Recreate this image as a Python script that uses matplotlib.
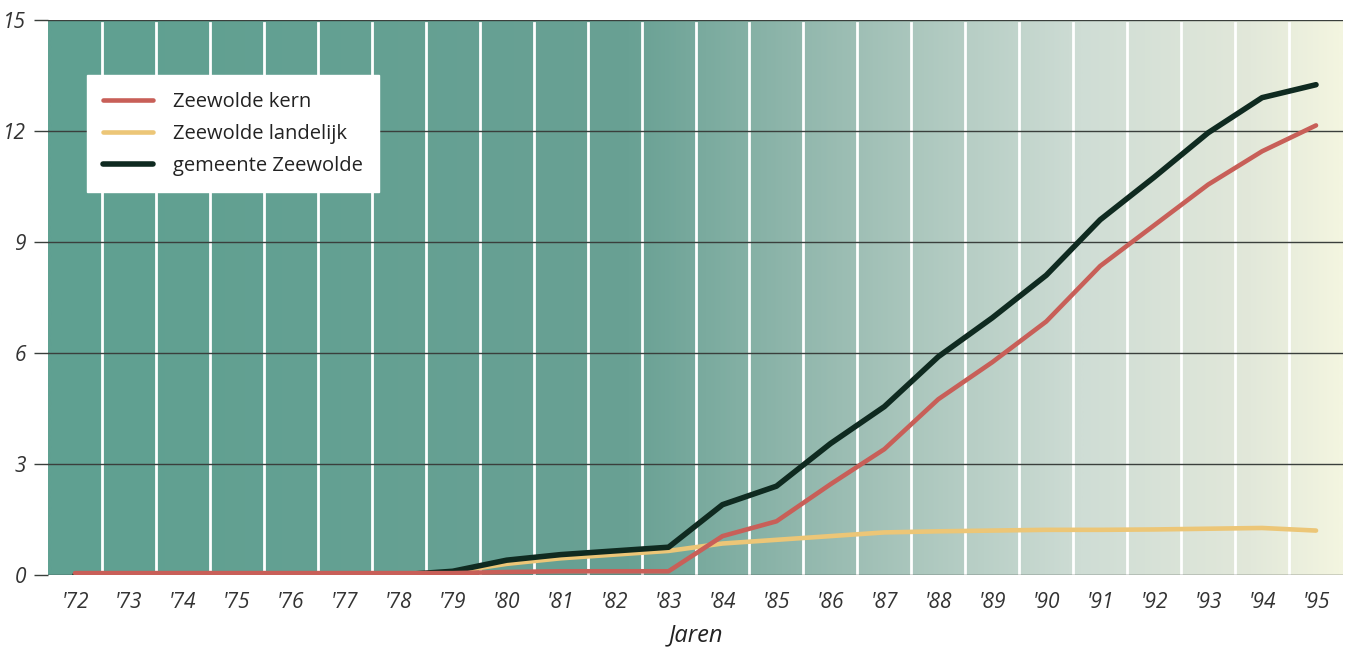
import numpy as np
import matplotlib.pyplot as plt
from matplotlib.colors import LinearSegmentedColormap

# inwoners x 1000 per jaar
jaren = list(range(1972, 1996))
jaar_labels = ["'%02d" % (j % 100) for j in jaren]

kern = [0.05, 0.05, 0.05, 0.05, 0.05, 0.05, 0.05, 0.05, 0.08, 0.1, 0.1, 0.1,
        1.05, 1.45, 2.45, 3.4, 4.75, 5.75, 6.85, 8.35, 9.45, 10.55, 11.45, 12.15]
landelijk = [0.0, 0.0, 0.0, 0.0, 0.0, 0.0, 0.0, 0.08, 0.3, 0.45, 0.55, 0.65,
             0.85, 0.95, 1.05, 1.15, 1.18, 1.2, 1.22, 1.22, 1.23, 1.25, 1.27, 1.2]
gemeente = [0.0, 0.0, 0.0, 0.0, 0.0, 0.0, 0.0, 0.1, 0.4, 0.55, 0.65, 0.75,
            1.9, 2.4, 3.55, 4.55, 5.9, 6.95, 8.1, 9.6, 10.75, 11.95, 12.9, 13.25]

y_ticks = [0, 3, 6, 9, 12, 15]

plt.rcParams['font.family'] = ['Open Sans', 'DejaVu Sans']

fig = plt.figure(figsize=(13.53, 6.48), dpi=100)
ax = fig.add_axes([0.0355, 0.1127, 0.9571, 0.8565])

x = np.array(jaren) - 1900
xmin, xmax = 71.5, 95.5
ymin, ymax = 0, 15

# achtergrond: teal links, verloopt naar licht rechts
bg = LinearSegmentedColormap.from_list('bg', [
    (0.0, '#5fa091'), (0.45, '#69a194'), (0.62, '#9dbeb4'),
    (0.8, '#cfddd5'), (0.93, '#e2e8da'), (1.0, '#f3f5e0')])
grad = np.linspace(0, 1, 512).reshape(1, -1)
ax.imshow(grad, cmap=bg, aspect='auto', extent=[xmin, xmax, ymin, ymax],
          zorder=0, interpolation='bilinear')

for xv in np.arange(72.5, 95.5, 1.0):
    ax.plot([xv, xv], [0, 14.92], color='white', lw=2.0, zorder=1)

for yv in y_ticks:
    ax.axhline(yv, color='#3a3f3c', lw=1.0, zorder=2)

ax.plot(x, landelijk, color='#ecc677', lw=3.3, zorder=3, label='Zeewolde landelijk',
        solid_capstyle='round')
ax.plot(x, gemeente, color='#0f2a20', lw=4.0, zorder=4, label='gemeente Zeewolde',
        solid_capstyle='round')
ax.plot(x, kern, color='#c85f58', lw=3.3, zorder=5, label='Zeewolde kern',
        solid_capstyle='round')

ax.set_xlim(xmin, xmax)
ax.set_ylim(ymin, ymax)
for s in ax.spines.values():
    s.set_visible(False)

ax.set_yticks(y_ticks)
ax.set_yticklabels([str(v) for v in y_ticks], fontsize=15, style='italic', color='#333333')
ax.tick_params(axis='y', length=10, width=1.0, color='#3a3f3c', pad=6)
ax.set_xticks(x)
ax.set_xticklabels(jaar_labels, fontsize=15, style='italic', color='#333333')
ax.tick_params(axis='x', length=0, pad=12)
ax.set_xlabel('Jaren', fontsize=17, style='italic', color='#222222', labelpad=8)

h, l = ax.get_legend_handles_labels()
order = [2, 0, 1]
leg = ax.legend([h[i] for i in order], [l[i] for i in order],
                loc='upper left', bbox_to_anchor=(0.03, 0.9), fontsize=14.5,
                frameon=True, fancybox=False, framealpha=1.0, edgecolor='white',
                handlelength=2.5, handletextpad=1.0, labelspacing=0.6,
                borderpad=0.8, borderaxespad=0)
leg.set_zorder(10)
for t in leg.get_texts():
    t.set_color('#222222')

fig.savefig('out.png', dpi=100)
